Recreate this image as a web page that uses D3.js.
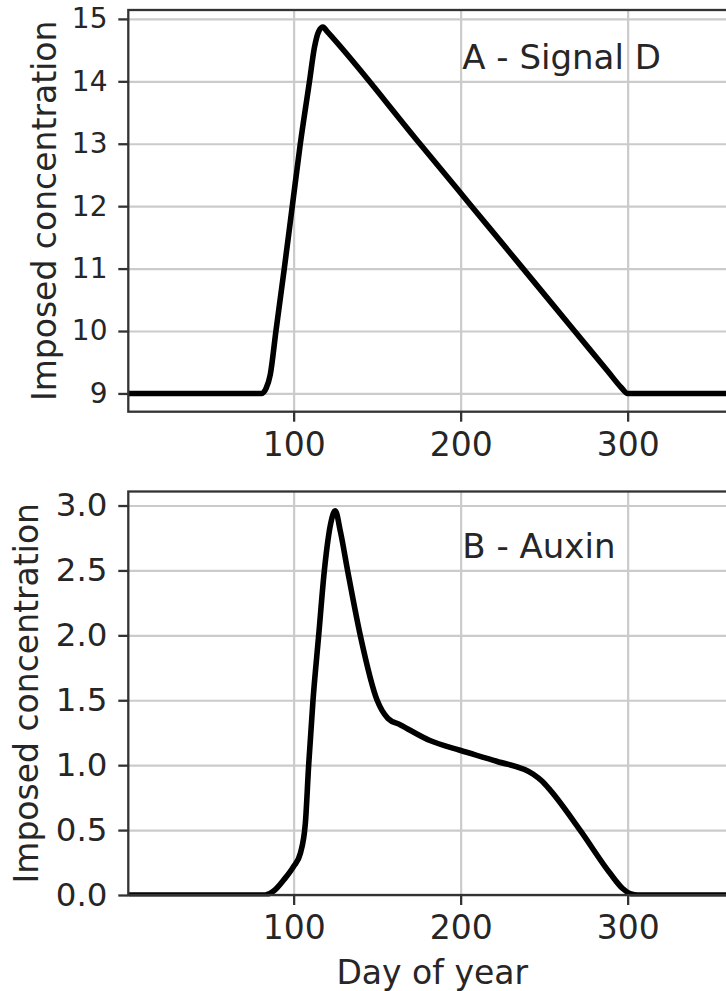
<!DOCTYPE html>
<html>
<head>
<meta charset="utf-8">
<script src="https://cdn.jsdelivr.net/npm/d3@7"></script>
<style>
  html, body { margin: 0; padding: 0; background: #fff; }
  svg { display: block; font-family: "DejaVu Sans", sans-serif; }
</style>
</head>
<body>
<script>
// ---------------- data ----------------
const xDomain = [1, 365];
const xTicks = [100, 200, 300];

// Panel A - Signal D
const signalDays   = [1, 81, 83.5, 86, 89.4, 94.4, 99.2, 104, 109.5, 112.5, 115, 117.6, 120, 175.6, 206.5, 237.4, 268.2, 288, 296, 300, 365];
const signalValues = [9, 9, 9.08, 9.3, 10, 11, 12, 13, 14, 14.55, 14.8, 14.87, 14.8, 13, 12, 11, 10, 9.36, 9.1, 9, 9];
const signalYTicks = [9, 10, 11, 12, 13, 14, 15];
const signalYDomain = [8.7075, 15.1425];

// Panel B - Auxin
const auxinDays   = [1, 83, 88, 94, 100, 104, 107, 109, 111.6, 115, 118.4, 122.5, 124.9, 128, 132.3, 139.9, 150, 153, 156.5, 164, 181.6, 199.6, 221.5, 243.5, 248.5, 253.5, 271.5, 289.5, 297, 302, 306, 365];
const auxinValues = [0, 0, 0.03, 0.115, 0.22, 0.32, 0.55, 1.0, 1.5, 2.0, 2.5, 2.88, 2.96, 2.8, 2.5, 2.0, 1.5, 1.42, 1.36, 1.31, 1.19, 1.115, 1.03, 0.93, 0.88, 0.81, 0.5, 0.167, 0.05, 0.008, 0, 0];
const auxinYTicks = [0, 0.5, 1.0, 1.5, 2.0, 2.5, 3.0];
const auxinYDomain = [0, 3.108];

const labels = ["A - Signal D", "B - Auxin"];
const yLabel = "Imposed concentration";
const xLabel = "Day of year";

// ---------------- drawing ----------------
const W = 726, H = 991;
const L = 128.3, R = 736.2;
const TEXT = "#262626", SPINE = "#333", GRID = "#cbcbcb";

const svg = d3.select("body").append("svg").attr("width", W).attr("height", H);
const x = d3.scaleLinear().domain(xDomain).range([L, R]);

function panel(o) {
  const y = d3.scaleLinear().domain(o.yDomain).range([o.bottom, o.top]);
  const g = svg.append("g");

  g.append("g")
    .attr("transform", `translate(0,${o.bottom})`)
    .call(d3.axisBottom(x).tickValues(xTicks).tickSize(-(o.bottom - o.top)).tickFormat(""))
    .call(s => { s.select(".domain").remove();
      s.selectAll("line").attr("stroke", GRID).attr("stroke-width", 2.2); });
  g.append("g")
    .attr("transform", `translate(${L},0)`)
    .call(d3.axisLeft(y).tickValues(o.yTicks).tickSize(-(R - L)).tickFormat(""))
    .call(s => { s.select(".domain").remove();
      s.selectAll("line").attr("stroke", GRID).attr("stroke-width", 2.2); });

  const cid = "clip" + o.id;
  svg.append("clipPath").attr("id", cid).append("rect")
    .attr("x", L).attr("y", o.top - 1).attr("width", R - L).attr("height", o.bottom - o.top + 2.5);

  const pts = o.days.map((d, i) => [d, o.vals[i]]);
  g.append("path")
    .datum(pts)
    .attr("clip-path", `url(#${cid})`)
    .attr("fill", "none")
    .attr("stroke", "#000")
    .attr("stroke-width", 5.6)
    .attr("stroke-linejoin", "round")
    .attr("d", d3.line().x(d => x(d[0])).y(d => y(d[1])).curve(d3.curveMonotoneX));

  g.append("rect")
    .attr("x", L).attr("y", o.top).attr("width", R - L).attr("height", o.bottom - o.top)
    .attr("fill", "none").attr("stroke", SPINE).attr("stroke-width", 2.3);

  g.append("g")
    .attr("transform", `translate(0,${o.bottom})`)
    .call(d3.axisBottom(x).tickValues(xTicks).tickSize(10).tickPadding(11).tickFormat(d3.format("d")))
    .call(s => { s.select(".domain").remove();
      s.selectAll("line").attr("stroke", SPINE).attr("stroke-width", 2.3);
      s.selectAll("text").attr("fill", TEXT).attr("font-size", 33)
        .attr("font-family", "DejaVu Sans"); });

  g.append("g")
    .attr("transform", `translate(${L},0)`)
    .call(d3.axisLeft(y).tickValues(o.yTicks).tickSize(10).tickPadding(10.8).tickFormat(o.fmt))
    .call(s => { s.select(".domain").remove();
      s.selectAll("line").attr("stroke", SPINE).attr("stroke-width", 2.3);
      s.selectAll("text").attr("fill", TEXT).attr("font-size", o.yTickFont)
        .attr("font-family", "DejaVu Sans"); });

  g.append("text")
    .attr("transform", `translate(${o.yLabelX},${(o.top + o.bottom) / 2}) rotate(-90)`)
    .attr("text-anchor", "middle")
    .attr("fill", TEXT).attr("font-size", 33)
    .text(yLabel);

  g.append("text")
    .attr("x", x(o.annX)).attr("y", y(o.annY))
    .attr("fill", TEXT).attr("font-size", 34)
    .text(o.label);

  return y;
}

panel({ id: "A", top: 10, bottom: 411.7, yDomain: signalYDomain, yTicks: signalYTicks,
  fmt: d3.format("d"), days: signalDays, vals: signalValues, yTickFont: 28, yLabelX: 56,
  label: labels[0], annX: 201, annY: 14.19 });

panel({ id: "B", top: 491.5, bottom: 895, yDomain: auxinYDomain, yTicks: auxinYTicks,
  fmt: d3.format(".1f"), days: auxinDays, vals: auxinValues, yTickFont: 32.5, yLabelX: 37.5,
  label: labels[1], annX: 201, annY: 2.594 });

svg.append("text")
  .attr("x", (L + R) / 2).attr("y", 984)
  .attr("text-anchor", "middle")
  .attr("fill", TEXT).attr("font-size", 33)
  .text(xLabel);
</script>
</body>
</html>
